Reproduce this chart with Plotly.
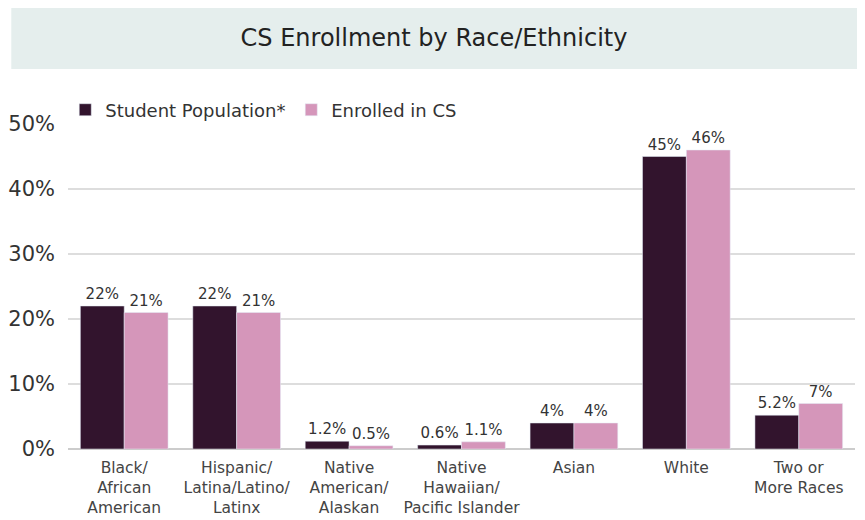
import plotly.graph_objects as go

categories = ["Black/<br>African<br>American", "Hispanic/<br>Latina/Latino/<br>Latinx",
              "Native<br>American/<br>Alaskan", "Native<br>Hawaiian/<br>Pacific Islander",
              "Asian", "White", "Two or<br>More Races"]
student_pop = [22, 22, 1.2, 0.6, 4, 45, 5.2]
student_text = ["22%", "22%", "1.2%", "0.6%", "4%", "45%", "5.2%"]
enrolled_cs = [21, 21, 0.5, 1.1, 4, 46, 7]
enrolled_text = ["21%", "21%", "0.5%", "1.1%", "4%", "46%", "7%"]
y_ticks = [0, 10, 20, 30, 40, 50]
y_tick_labels = ["0%", "10%", "20%", "30%", "40%", "50%"]

FONT = "'DejaVu Sans', sans-serif"
DARK = "#32142D"
PINK = "#D596BA"

fig = go.Figure()
fig.add_trace(go.Bar(name="Student Population*", x=categories, y=student_pop,
                     text=student_text, textposition="outside", marker_color=DARK,
                     textfont=dict(size=15, color="#333"), cliponaxis=False))
fig.add_trace(go.Bar(name="Enrolled in CS", x=categories, y=enrolled_cs,
                     text=enrolled_text, textposition="outside", marker_color=PINK,
                     textfont=dict(size=15, color="#333"), cliponaxis=False))

# page body has an 8px margin, so figure coords = screen coords - 8
OFF = 8
W, H = 857, 512
L, T = 67.75 - OFF, 124 - OFF
pw, ph = 787.5, 325.5
R = W - L - pw
B = H - T - ph

def py(screen_y):
    return (T + ph - (screen_y - OFF)) / ph

def px(screen_x):
    return (screen_x - OFF - L) / pw

fig.add_shape(type="rect", xref="paper", yref="paper",
              x0=px(11), x1=px(859), y0=py(69), y1=py(5),
              fillcolor="#E5EEED", line_width=0, layer="below")

fig.update_layout(
    width=W, height=H,
    margin=dict(l=L, r=R, t=T, b=B, autoexpand=False),
    paper_bgcolor="white", plot_bgcolor="white",
    font=dict(family=FONT, color="#333"),
    title=dict(text="CS Enrollment by Race/Ethnicity", x=(434 - OFF) / W,
               xref="container", y=1 - (38 - OFF) / H, yref="container",
               yanchor="middle", xanchor="center",
               font=dict(size=24, color="#222", family=FONT)),
    barmode="group", bargap=0.22, bargroupgap=0,
    showlegend=True,
    legend=dict(orientation="h", x=px(65), y=py(110),
                xanchor="left", yanchor="middle", font=dict(size=18, color="#333"),
                bgcolor="rgba(0,0,0,0)", entrywidth=181),
    xaxis=dict(showgrid=False, tickfont=dict(size=15.5, color="#444"),
               showline=False, ticks="", ticklabelstandoff=7, automargin=False),
    yaxis=dict(range=[0, 50], tickvals=y_ticks, ticktext=y_tick_labels,
               tickfont=dict(size=21, color="#333"), showgrid=True,
               gridcolor="#DDDDDD", gridwidth=2, zeroline=True,
               zerolinecolor="#CCCCCC", zerolinewidth=2, ticks="",
               ticklabelstandoff=12, automargin=False),
)

fig.write_html("out.html")
